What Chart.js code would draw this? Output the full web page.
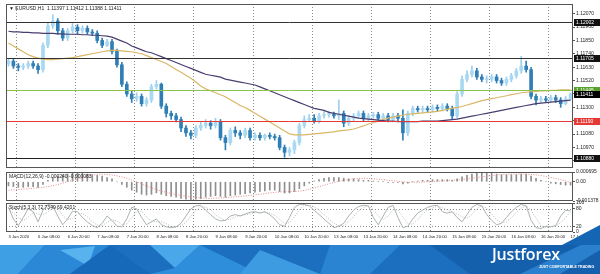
<!DOCTYPE html>
<html>
<head>
<meta charset="utf-8">
<script src="https://cdn.jsdelivr.net/npm/chart.js@4.4.0/dist/chart.umd.min.js"></script>
<style>
  body { margin: 0; background: #fff; }
  #wrap { position: relative; width: 600px; height: 274px; overflow: hidden; background: #fff; }
  #wrap canvas { position: absolute; left: 0; }
  .shape { position: absolute; left: 0; top: 0; width: 600px; height: 274px; }
  #logo { position: absolute; left: 492px; top: 246px; color: #fff; font: 600 16px "Open Sans", sans-serif; letter-spacing: -0.2px; line-height: 16px; }
  #slogan { position: absolute; left: 539px; top: 265px; color: #fff; font: bold 3.6px "Liberation Sans", sans-serif; white-space: nowrap; }
</style>
</head>
<body>
<div id="wrap">
  <canvas id="main" width="600" height="172" style="top:0"></canvas>
  <canvas id="macd" width="600" height="40" style="top:166px"></canvas>
  <canvas id="stoch" width="600" height="49" style="top:196px"></canvas>
  <div class="shape" style="background:#1c6fbf; clip-path: polygon(0 245px, 600px 245px, 600px 274px, 0 274px)"></div>
  <div class="shape" style="background:#3f9fe4; clip-path: polygon(0 245px, 45px 245px, 18px 274px, 0 274px)"></div>
  <div class="shape" style="background:#2b88d6; clip-path: polygon(45px 245px, 110px 245px, 70px 274px, 18px 274px)"></div>
  <div class="shape" style="background:#58b2ee; clip-path: polygon(60px 250px, 95px 246px, 88px 266px)"></div>
  <div class="shape" style="background:#1668b8; clip-path: polygon(110px 245px, 150px 274px, 70px 274px)"></div>
  <div class="shape" style="background:#4aa7e9; clip-path: polygon(150px 245px, 200px 245px, 175px 268px)"></div>
  <div class="shape" style="background:#2f8edb; clip-path: polygon(200px 245px, 260px 274px, 150px 274px, 175px 268px)"></div>
  <div class="shape" style="background:#3d9be2; clip-path: polygon(260px 250px, 320px 274px, 240px 274px)"></div>
  <div class="shape" style="background:#2a84d2; clip-path: polygon(330px 245px, 400px 245px, 370px 274px, 320px 274px)"></div>
  <div class="shape" style="background:#1460ad; clip-path: polygon(430px 245px, 600px 245px, 600px 274px, 470px 274px)"></div>
  <div class="shape" style="background:#2a80cc; clip-path: polygon(520px 274px, 600px 236px, 600px 250px, 560px 274px)"></div>
  <div class="shape" style="background:#1466b4; clip-path: polygon(562px 245px, 600px 225px, 600px 245px)"></div>
  <div id="logo">Justforex</div>
  <div id="slogan">JUST COMFORTABLE TRADING</div>
</div>
<script>
// trading days shown on the chart (2-hour bars)
const firstBars = ['3 Jan 20:00', '3 Jan 22:00'];
const fullDays = ['6 Jan', '7 Jan', '8 Jan', '9 Jan', '10 Jan', '13 Jan', '14 Jan', '15 Jan', '16 Jan'];
const lastDay = '17 Jan';
const hours = ['00:00', '02:00', '04:00', '06:00', '08:00', '10:00', '12:00', '14:00', '16:00', '18:00', '20:00', '22:00'];

const opens = [1.1166,1.1168,1.1164,1.1163,1.1164,1.1166,1.1164,1.1161,1.1181,1.1197,
  1.1201,1.1193,1.1187,1.1193,1.1196,1.1193,1.1195,1.1192,1.1191,1.1185,
  1.1181,1.1184,1.1176,1.1165,1.1149,1.1141,1.1137,1.1139,1.1133,1.1136,
  1.1147,1.1149,1.1131,1.1125,1.1123,1.1120,1.1113,1.1109,1.1107,1.1113,
  1.1115,1.1117,1.1115,1.1118,1.1105,1.1101,1.1111,1.1109,1.1107,1.1111,
  1.1105,1.1107,1.1105,1.1107,1.1106,1.1105,1.1097,1.1093,1.1095,1.1101,
  1.1115,1.1120,1.1121,1.1119,1.1123,1.1124,1.1124,1.1123,1.1125,1.1117,
  1.1121,1.1123,1.1125,1.1121,1.1123,1.1124,1.1121,1.1123,1.1120,1.1123,
  1.1121,1.1109,1.1125,1.1129,1.1128,1.1129,1.1128,1.1130,1.1129,1.1131,
  1.1129,1.1123,1.1141,1.1153,1.1157,1.1160,1.1155,1.1153,1.1153,1.1155,
  1.1152,1.1150,1.1153,1.1156,1.1160,1.1164,1.1161,1.1139,1.1136,1.1137,
  1.1136,1.1138,1.1136,1.1133,1.1137];
const highs = [1.1170,1.1170,1.1166,1.1166,1.1168,1.1168,1.1166,1.1183,1.1200,1.1206,
  1.1203,1.1195,1.1195,1.1199,1.1198,1.1197,1.1197,1.1194,1.1193,1.1187,
  1.1186,1.1186,1.1178,1.1167,1.1151,1.1144,1.1142,1.1141,1.1138,1.1149,
  1.1152,1.1150,1.1133,1.1127,1.1125,1.1122,1.1115,1.1111,1.1115,1.1118,
  1.1120,1.1119,1.1121,1.1120,1.1107,1.1113,1.1114,1.1111,1.1113,1.1113,
  1.1109,1.1109,1.1108,1.1109,1.1108,1.1107,1.1099,1.1097,1.1103,1.1117,
  1.1123,1.1124,1.1124,1.1125,1.1127,1.1127,1.1126,1.1136,1.1127,1.1123,
  1.1125,1.1127,1.1127,1.1125,1.1126,1.1126,1.1125,1.1125,1.1125,1.1125,
  1.1128,1.1127,1.1131,1.1131,1.1131,1.1131,1.1132,1.1132,1.1133,1.1133,
  1.1131,1.1143,1.1156,1.1160,1.1164,1.1162,1.1157,1.1156,1.1157,1.1157,
  1.1154,1.1155,1.1158,1.1162,1.1172,1.1168,1.1163,1.1141,1.1139,1.1139,
  1.1140,1.1140,1.1138,1.1139,1.1142];
const lows = [1.1164,1.1162,1.1160,1.1161,1.1162,1.1162,1.1158,1.1159,1.1179,1.1195,
  1.1190,1.1185,1.1185,1.1191,1.1190,1.1191,1.1190,1.1189,1.1183,1.1179,
  1.1180,1.1174,1.1163,1.1147,1.1139,1.1134,1.1135,1.1131,1.1131,1.1134,
  1.1145,1.1129,1.1122,1.1120,1.1118,1.1110,1.1106,1.1104,1.1105,1.1111,
  1.1113,1.1112,1.1113,1.1103,1.1095,1.1099,1.1106,1.1104,1.1105,1.1103,
  1.1103,1.1103,1.1103,1.1104,1.1103,1.1095,1.1089,1.1090,1.1092,1.1099,
  1.1113,1.1118,1.1117,1.1117,1.1121,1.1122,1.1121,1.1120,1.1114,1.1115,
  1.1119,1.1121,1.1119,1.1119,1.1121,1.1119,1.1119,1.1118,1.1118,1.1119,
  1.1103,1.1107,1.1123,1.1126,1.1126,1.1126,1.1126,1.1127,1.1127,1.1127,
  1.1120,1.1121,1.1139,1.1151,1.1155,1.1153,1.1151,1.1150,1.1151,1.1150,
  1.1148,1.1148,1.1151,1.1154,1.1158,1.1159,1.1137,1.1132,1.1134,1.1134,
  1.1134,1.1134,1.1130,1.1132,1.1136];
const closes = [1.1168,1.1164,1.1163,1.1164,1.1166,1.1164,1.1161,1.1181,1.1197,1.1201,
  1.1193,1.1187,1.1193,1.1196,1.1193,1.1195,1.1192,1.1191,1.1185,1.1181,
  1.1184,1.1176,1.1165,1.1149,1.1141,1.1137,1.1139,1.1133,1.1136,1.1147,
  1.1149,1.1131,1.1125,1.1123,1.1120,1.1113,1.1109,1.1107,1.1113,1.1115,
  1.1117,1.1115,1.1118,1.1105,1.1101,1.1111,1.1109,1.1107,1.1111,1.1105,
  1.1107,1.1105,1.1107,1.1106,1.1105,1.1097,1.1093,1.1095,1.1101,1.1115,
  1.1120,1.1121,1.1119,1.1123,1.1124,1.1124,1.1123,1.1125,1.1117,1.1121,
  1.1123,1.1125,1.1121,1.1123,1.1124,1.1121,1.1123,1.1120,1.1123,1.1121,
  1.1109,1.1125,1.1129,1.1128,1.1129,1.1128,1.1130,1.1129,1.1131,1.1129,
  1.1123,1.1141,1.1153,1.1157,1.1160,1.1155,1.1153,1.1153,1.1155,1.1152,
  1.1150,1.1153,1.1156,1.1160,1.1164,1.1161,1.1139,1.1136,1.1137,1.1136,
  1.1138,1.1136,1.1133,1.1137,1.1141];

// moving averages (purple = slow, tan = fast)
const maSlow = [1.11926,1.11921,1.11921,1.11917,1.11917,1.11913,1.11913,1.11909,1.11909,1.11909,
  1.11905,1.11905,1.11901,1.11901,1.11901,1.11897,1.11897,1.11893,1.11893,1.11889,
  1.11885,1.11877,1.11861,1.11845,1.11829,1.11805,1.11789,1.11773,1.11757,1.11749,
  1.11733,1.11717,1.11701,1.11685,1.11669,1.11652,1.11636,1.1162,1.11604,1.11588,
  1.11572,1.11564,1.11556,1.11548,1.11532,1.11524,1.11516,1.11508,1.115,1.11492,
  1.11484,1.11468,1.11452,1.11436,1.1142,1.11404,1.11387,1.11371,1.11355,1.11339,
  1.11323,1.11307,1.11291,1.11283,1.11275,1.11259,1.11251,1.11243,1.11235,1.11227,
  1.11219,1.11211,1.11207,1.11203,1.11199,1.11195,1.11191,1.11187,1.11187,1.11183,
  1.11183,1.11183,1.11183,1.11183,1.11187,1.11187,1.11187,1.11187,1.11191,1.11195,
  1.11199,1.11203,1.11211,1.11219,1.11227,1.11235,1.11243,1.11251,1.11259,1.11267,
  1.11275,1.11283,1.11291,1.11299,1.11307,1.11315,1.11323,1.11331,1.11335,1.11339,
  1.11343,1.11347,1.11351,1.11355,1.11359];
const maFast = [1.11829,1.11805,1.11781,1.11757,1.11733,1.11717,1.11705,1.11697,1.11693,1.11693,
  1.11697,1.11701,1.11705,1.11709,1.11717,1.11725,1.11733,1.11741,1.11749,1.11757,
  1.11765,1.11769,1.11769,1.11765,1.11761,1.11757,1.11749,1.11741,1.11725,1.11709,
  1.11693,1.11677,1.11661,1.11636,1.11612,1.11588,1.11564,1.1154,1.11508,1.11476,
  1.11452,1.11436,1.1142,1.11404,1.11387,1.11363,1.11339,1.11315,1.11299,1.11275,
  1.11251,1.11227,1.11203,1.11179,1.11155,1.1113,1.11106,1.11082,1.11074,1.11074,
  1.11074,1.11078,1.11082,1.11086,1.1109,1.11094,1.11098,1.11106,1.1111,1.11114,
  1.11122,1.11134,1.11147,1.11163,1.11175,1.11187,1.11199,1.11211,1.11219,1.11227,
  1.11235,1.11243,1.11247,1.11251,1.11255,1.11259,1.11263,1.11267,1.11275,1.11283,
  1.11291,1.11299,1.11307,1.11319,1.11331,1.11343,1.11355,1.11363,1.11371,1.11379,
  1.11387,1.11395,1.11404,1.11412,1.1142,1.11424,1.11428,1.11432,1.11436,1.11436,
  1.1144,1.1144,1.11444,1.11444,1.11444];

// MACD(12,26,9), in 0.0001 units
const macdMain = [-3,-3.5,-4,-4,-3.5,-3.5,-4,-2,1,3,
  4,5,5.5,6,6,6,5.5,5,4.5,4,
  3,2,0,-2,-4,-6,-7.5,-9,-9.5,-9,
  -8,-9,-10,-10.5,-11,-12,-12.5,-13,-12.5,-12,
  -11,-10.5,-10,-10.5,-11,-10,-9.5,-9,-8.5,-8,
  -7.5,-7,-6.5,-6,-6,-7,-8,-8,-7,-5,
  -3,-1,0.5,1.5,2.5,3,3,3,2.5,2,
  2,1.5,1,1,0.5,0,0,-0.5,-0.5,-0.5,
  -1.5,-1,0,0.5,1,1,1.5,1.5,1.5,1.5,
  1,2,3.5,4.5,5.5,6,6,6,6,5.5,
  5,5,5,5,5.5,5.5,4,2.5,1,0,
  -1,-1.5,-2,-2.4,-2.4];
const macdSignal = [-6,-5.8,-5.6,-5.3,-5,-4.7,-4.4,-4,-3.5,-2.8,
  -2,-1,0,1,2,3,4,4.8,5.2,5.4,
  5.2,4.8,4.2,3.4,2.4,1.2,0,-1.5,-3,-4.4,
  -5.6,-6.7,-7.6,-8.4,-9.2,-9.8,-10.3,-10.9,-11.3,-11.6,
  -11.8,-11.9,-11.8,-11.6,-11.4,-11.1,-10.8,-10.5,-10.1,-9.8,
  -9.4,-9,-8.5,-8,-7.6,-7.3,-7.2,-7.1,-7,-6.7,
  -6.2,-5.4,-4.5,-3.5,-2.5,-1.5,-0.6,0.3,1,1.6,
  2,2.3,2.4,2.3,2.1,1.8,1.5,1.1,0.7,0.3,
  0,-0.3,-0.4,-0.4,-0.3,-0.1,0.1,0.4,0.6,0.9,
  1.1,1.3,1.6,2,2.5,3,3.5,4,4.4,4.8,
  5.1,5.3,5.5,5.5,5.5,5.4,5.2,4.9,4.4,3.8,
  3.1,2.3,1.5,0.6,-0.8];

// Stochastic(5,3,3)
const stochMain = [85,45,22,50,80,70,35,75,95,90,
  55,25,45,72,70,50,35,22,15,30,
  55,40,20,18,45,85,80,50,25,35,
  45,25,18,15,18,30,55,80,90,92,
  75,60,45,38,40,55,60,55,62,68,
  70,65,70,60,45,25,20,50,85,95,
  95,90,75,60,45,30,15,20,30,55,
  75,88,92,90,50,25,55,85,92,50,
  15,20,45,65,75,85,90,92,70,65,
  70,50,35,60,85,95,90,60,40,25,
  30,50,70,85,95,90,40,15,12,20,
  18,22,55,75,72.7];
const stochSignal = [80,65,50,39,51,67,62,60,68,87,
  80,57,42,47,62,64,52,36,24,22,
  33,42,38,26,28,49,70,72,52,37,
  35,35,29,19,17,21,34,55,75,87,
  86,76,60,48,41,44,52,57,59,62,
  67,68,68,65,58,43,30,32,52,77,
  92,93,87,75,60,45,30,22,22,35,
  53,73,85,90,77,55,43,55,77,76,
  52,28,27,43,62,75,83,89,84,76,
  68,62,52,48,60,80,90,82,63,42,
  32,35,50,68,83,90,75,48,22,16,
  17,20,32,51,69.4];

// right axis ticks and drawn levels
const priceTicks = [1.12070,1.11960,1.11850,1.11740,1.11630,1.11520,1.11410,1.11300,1.11190,1.11080,1.10970,1.10860];
const levelValues = [1.12002, 1.11705, 1.11445, 1.11190, 1.10880];
const levelColors = ['#333333', '#333333', '#8bc34a', '#e53935', '#222222'];
const levelLabelColors = ['#111111', '#111111', '#5aa02c', '#e53935', '#111111'];
const lastPrice = 1.11411;
const macdTicks = [0.000695, 0, -0.001378];
const stochTicks = [100, 80, 20, 0];

// category labels
const times = firstBars.slice();
fullDays.forEach(d => hours.forEach(h => times.push(d + ' ' + h)));
hours.slice(0, 5).forEach(h => times.push(lastDay + ' ' + h));

const FONT = 'Liberation Sans';
const LEFT = 6, AXIS_W = 27;

const panelPlugin = {
  id: 'panel',
  beforeDatasetsDraw(chart, args, opts) {
    const { ctx, chartArea: a, scales } = chart;
    const x = scales.x, y = scales.y;
    ctx.save();
    ctx.strokeStyle = '#8a8a8a';
    ctx.lineWidth = 1;
    ctx.setLineDash([1, 2]);
    const half = (x.getPixelForValue(1) - x.getPixelForValue(0)) / 2;
    times.forEach((t, i) => {
      if (t.endsWith('00:00')) {
        const px = Math.round(x.getPixelForValue(i) - half) + 0.5;
        ctx.beginPath(); ctx.moveTo(px, a.top); ctx.lineTo(px, a.bottom); ctx.stroke();
      }
    });
    (opts.dotted || []).forEach(v => {
      const py = Math.round(y.getPixelForValue(v)) + 0.5;
      ctx.beginPath(); ctx.moveTo(a.left, py); ctx.lineTo(a.right, py); ctx.stroke();
    });
    ctx.restore();
  },
  afterDatasetsDraw(chart, args, opts) {
    const { ctx, chartArea: a, scales } = chart;
    const y = scales.y;
    ctx.save();
    ctx.setLineDash([]);
    ctx.font = '5px "' + FONT + '"';
    ctx.textBaseline = 'middle';
    (opts.levels || []).forEach((v, i) => {
      const py = Math.round(y.getPixelForValue(v)) + 0.5;
      ctx.strokeStyle = levelColors[i];
      ctx.beginPath(); ctx.moveTo(a.left, py); ctx.lineTo(a.right, py); ctx.stroke();
      ctx.fillStyle = levelLabelColors[i];
      ctx.fillRect(a.right + 1, py - 3.5, AXIS_W - 1, 7);
      ctx.fillStyle = '#fff';
      ctx.fillText(v.toFixed(5), a.right + 3, py + 0.5);
    });
    if (opts.last) {
      const py = Math.round(y.getPixelForValue(opts.last)) + 0.5;
      ctx.fillStyle = '#000';
      ctx.fillRect(a.right + 1, py - 3.5, AXIS_W - 1, 7);
      ctx.fillStyle = '#fff';
      ctx.fillText(opts.last.toFixed(5), a.right + 3, py + 0.5);
    }
    ctx.strokeStyle = '#555';
    ctx.strokeRect(a.left + 0.5, a.top + 0.5, a.width - 1, a.height - 1);
    if (opts.title) {
      ctx.fillStyle = '#222';
      ctx.textBaseline = 'top';
      ctx.fillText(opts.title, a.left + 3, a.top + 2);
    }
    ctx.restore();
  }
};
Chart.register(panelPlugin);

function rightAxis(min, max, ticks, fmt) {
  return {
    position: 'right', min: min, max: max,
    afterFit: s => { s.width = AXIS_W; },
    afterBuildTicks: s => { s.ticks = ticks.map(v => ({ value: v })); },
    grid: { drawOnChartArea: false, drawTicks: true, tickLength: 2, color: '#555' },
    border: { display: false },
    ticks: { padding: 1, color: '#222', font: { family: FONT, size: 5 }, callback: fmt }
  };
}

const hiddenX = { offset: true, display: false };
const base = {
  responsive: false, animation: false, events: [],
  plugins: { legend: { display: false }, tooltip: { enabled: false } }
};

const up = closes.map((c, i) => c >= opens[i]);

new Chart(document.getElementById('main'), {
  type: 'bar',
  data: {
    labels: times,
    datasets: [
      { type: 'line', data: maSlow, borderColor: '#4a3d70', borderWidth: 1.2, pointRadius: 0, order: 0 },
      { type: 'line', data: maFast, borderColor: '#d9b766', borderWidth: 1.2, pointRadius: 0, order: 0 },
      { data: opens.map((o, i) => [o, closes[i]]), backgroundColor: up.map(u => u ? '#a9d8f2' : '#2f7fb6'),
        barThickness: 3, grouped: false, minBarLength: 1, order: 1 },
      { data: lows.map((l, i) => [l, highs[i]]), backgroundColor: up.map(u => u ? '#9ccfee' : '#2f7fb6'),
        barThickness: 1, grouped: false, order: 2 }
    ]
  },
  options: Object.assign({}, base, {
    layout: { padding: { left: LEFT, top: 3, bottom: 1, right: 0 } },
    scales: {
      x: hiddenX,
      y: rightAxis(1.10801, 1.12150, priceTicks, v => v.toFixed(5))
    },
    plugins: Object.assign({}, base.plugins, {
      panel: { levels: levelValues, last: lastPrice, title: '\u25BC EURUSD,H1  1.11397 1.11412 1.11388 1.11411' }
    })
  })
});

new Chart(document.getElementById('macd'), {
  type: 'bar',
  data: {
    labels: times,
    datasets: [
      { type: 'line', data: macdSignal.map(v => v / 10000), borderColor: '#e48a8a', borderWidth: 1,
        borderDash: [1, 1.5], pointRadius: 0, order: 0 },
      { data: macdMain.map(v => v / 10000), backgroundColor: '#8f8f8f', barThickness: 1, order: 1 }
    ]
  },
  options: Object.assign({}, base, {
    layout: { padding: { left: LEFT, top: 6, bottom: 5, right: 0 } },
    scales: {
      x: hiddenX,
      y: rightAxis(-0.001378, 0.000695, macdTicks, v => v === 0 ? '0.00' : v.toFixed(6))
    },
    plugins: Object.assign({}, base.plugins, {
      panel: { title: 'MACD(12,26,9) -0.000240 -0.000083' }
    })
  })
});

new Chart(document.getElementById('stoch'), {
  type: 'line',
  data: {
    labels: times,
    datasets: [
      { data: stochMain, borderColor: '#a9b2b5', borderWidth: 1, pointRadius: 0 },
      { data: stochSignal, borderColor: '#b9b9b9', borderWidth: 1, borderDash: [1, 1.5], pointRadius: 0 }
    ]
  },
  options: Object.assign({}, base, {
    layout: { padding: { left: LEFT, top: 7, bottom: 0, right: 0 } },
    scales: {
      x: {
        offset: true,
        afterFit: s => { s.height = 13; },
        grid: { display: false, drawTicks: false },
        border: { display: false },
        ticks: {
          autoSkip: false, maxRotation: 0, align: 'start', padding: 2,
          color: '#222', font: { family: FONT, size: 4.2 },
          callback: (v, i) => {
            if (i === 0) return '3 Jan 2020';
            const t = times[i];
            return (t.endsWith('08:00') || t.endsWith('20:00')) ? t : '';
          }
        }
      },
      y: rightAxis(0, 100, stochTicks, v => String(v))
    },
    plugins: Object.assign({}, base.plugins, {
      panel: { dotted: [80, 20], title: 'Stoch(5,3,3) 72.7349 69.4201' }
    })
  })
});
</script>
</body>
</html>
